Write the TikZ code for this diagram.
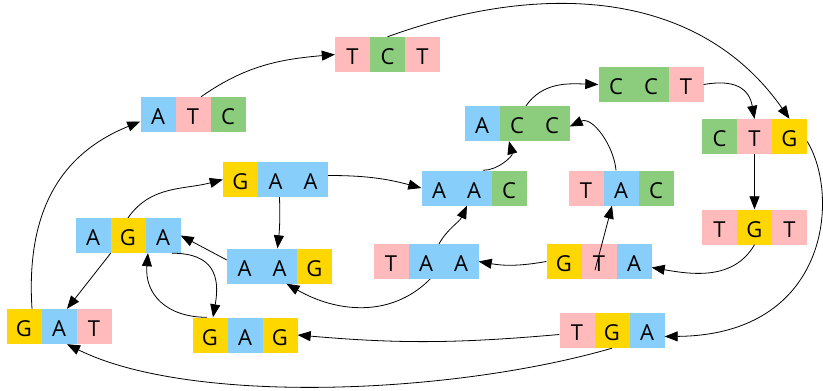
\documentclass[tikz,border=0pt]{standalone}
\usepackage{fontspec}
\setmainfont{Open Sans}
\usetikzlibrary{arrows.meta}
\definecolor{colA}{HTML}{87CEFA}
\definecolor{colT}{HTML}{FFBBBB}
\definecolor{colC}{HTML}{8CCD7D}
\definecolor{colG}{HTML}{FFD700}
\tikzset{
  cellbox/.style={fill=col#1, draw=none,
    minimum width=35pt, minimum height=35pt, inner sep=0pt,
    text height=20.5pt, text depth=0pt,
    font=\fontsize{22}{22}\selectfont},
  tripbox/.style={minimum width=105pt, minimum height=35pt, inner sep=0pt, draw=none},
  link/.style={-{Triangle[length=13pt,width=10pt]}, line width=0.8pt, black},
}
\newcommand\tripl[6]{%
  \node[cellbox=#4] (#1-1) at (#2-35,#3) {#4};
  \node[cellbox=#5] (#1-2) at (#2,#3) {#5};
  \node[cellbox=#6] (#1-3) at (#2+35,#3) {#6};
  \node[tripbox] (#1) at (#2,#3) {};
}
\begin{document}
\begin{tikzpicture}[x=1pt,y=1pt]
\useasboundingbox (0,0) rectangle (823,-391);
\tripl{TCT}{387.5}{-54.5}{T}{C}{T}
\tripl{ATC}{193}{-114.5}{A}{T}{C}
\tripl{GAA}{275.5}{-179.5}{G}{A}{A}
\tripl{ACC}{517}{-123.5}{A}{C}{C}
\tripl{CCT}{651}{-84.5}{C}{C}{T}
\tripl{CTG}{754.5}{-136.5}{C}{T}{G}
\tripl{AAC}{474}{-188}{A}{A}{C}
\tripl{TAC}{621}{-188}{T}{A}{C}
\tripl{TGT}{754.5}{-227}{T}{G}{T}
\tripl{GTA}{599}{-261.5}{G}{T}{A}
\tripl{TAA}{426}{-261.5}{T}{A}{A}
\tripl{TGA}{612}{-330.5}{T}{G}{A}
\tripl{AGA}{128}{-235.5}{A}{G}{A}
\tripl{AAG}{279.5}{-266}{A}{A}{G}
\tripl{GAT}{59}{-326.5}{G}{A}{T}
\tripl{GAG}{245}{-335}{G}{A}{G}

% edges
\draw[link] ([xshift=8pt]GAT-1.north) .. controls (25,-200) and (70,-150) .. ([yshift=-7pt]ATC.west);
\draw[link] ([xshift=8pt]ATC-2.north) to[out=35,in=185] (TCT.west);
\draw[link] (TCT-2.north) to[out=20,in=125] (CTG-3.north);
\draw[link] ([yshift=-5pt]CTG.east) .. controls (840,-195) and (830,-335) .. ([yshift=-6pt]TGA.east);
\draw[link] (CCT.east) to[out=10,in=100,looseness=1.3] (CTG-2.north);
\draw[link] ([xshift=9pt]ACC-2.north) to[out=55,in=178] (CCT.west);
\draw[link] ([xshift=9pt]AAC-2.north) to[out=0,in=-75] ([xshift=-8pt]ACC-2.south);
\draw[link] ([xshift=-5pt]TAC-2.north) to[out=95,in=25] ([yshift=-3pt]ACC.east);
\draw[link] (CTG-2.south) -- (TGT-2.north);
\draw[link] (TGT-2.south) to[out=-120,in=-10] ([yshift=-6pt]GTA.east);
\draw[link] ([xshift=-4pt,yshift=9pt]GTA-2.south) -- ([xshift=-9pt]TAC-2.south);
\draw[link] (GTA.west) to[out=190,in=-10] (TAA.east);
\draw[link] ([xshift=13pt]TAA-2.north) to[out=60,in=-115] ([xshift=-7pt]AAC-2.south);
\draw[link] ([xshift=4pt]TAA-2.south) to[out=-135,in=-30] ([xshift=7pt]AAG-2.south);
\draw[link] ([yshift=4pt]GAA.east) to[out=0,in=165] (AAC.west);
\draw[link] ([xshift=4pt]GAA-2.south) to[bend left=4] ([xshift=-2pt]AAG-2.north);
\draw[link] ([yshift=6pt]AAG.west) -- (AGA.east);
\draw[link] ([xshift=9pt]AGA-3.south) to[out=0,in=80,looseness=1.4] ([xshift=3pt]GAG-1.north);
\draw[link] ([xshift=-3pt]GAG-1.north) to[out=180,in=-95,looseness=1.2] ([xshift=-15pt]AGA-3.south);
\draw[link] (AGA-2.north) to[out=55,in=195] (GAA.west);
\draw[link] (AGA-1.south east) -- ([xshift=8pt]GAT-2.north);
\draw[link] ([yshift=-4pt]TGA.west) to[out=185,in=-5] (GAG.east);
\draw[link] (TGA-2.south) .. controls (450,-395) and (190,-405) .. ([xshift=8pt]GAT-2.south);
\end{tikzpicture}
\end{document}
